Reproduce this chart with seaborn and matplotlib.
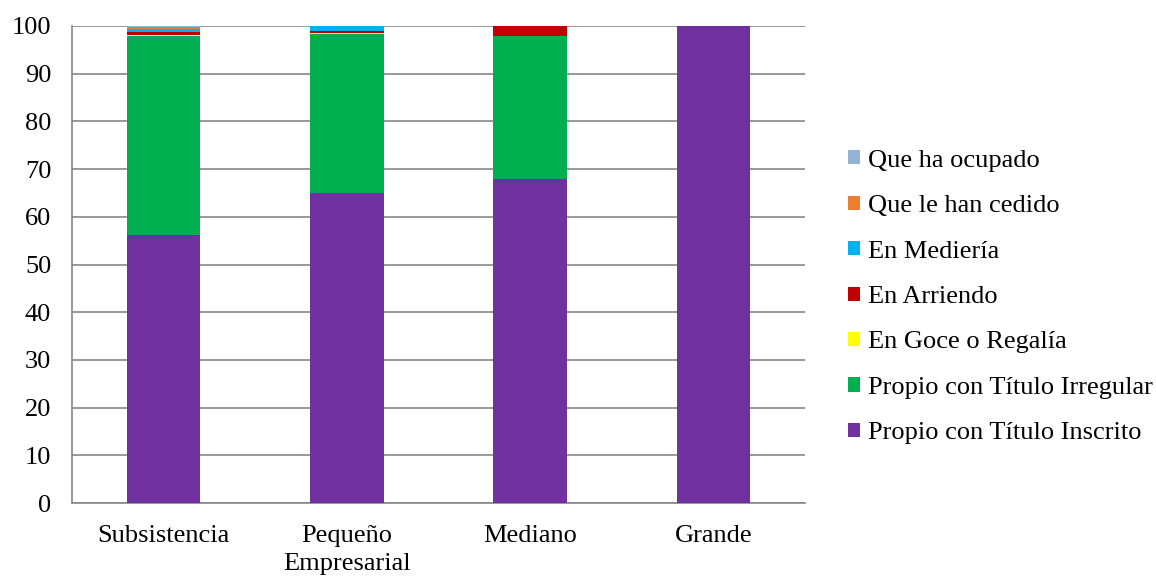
import numpy as np
import pandas as pd
import matplotlib
matplotlib.use("Agg")
import matplotlib.pyplot as plt
import seaborn as sns
from matplotlib.patches import Patch

categories = ["Subsistencia", "Pequeño\nEmpresarial", "Mediano", "Grande"]
series_names = ["Propio con Título Inscrito", "Propio con Título Irregular",
                "En Goce o Regalía", "En Arriendo", "En Mediería",
                "Que le han cedido", "Que ha ocupado"]
inscrito = [56.1, 64.9, 68.0, 100.0]
irregular = [41.7, 33.5, 30.0, 0.0]
goce = [0.3, 0.1, 0.0, 0.0]
arriendo = [0.7, 0.4, 2.0, 0.0]
medieria = [0.6, 1.0, 0.0, 0.0]
cedido = [0.4, 0.0, 0.0, 0.0]
ocupado = [0.2, 0.1, 0.0, 0.0]
colors = ["#7030A0", "#00B050", "#FFFF00", "#C00000", "#00B0F0", "#ED7D31", "#95B3D7"]

sns.set_style("white")
plt.rcParams["font.family"] = ["Liberation Serif", "DejaVu Serif"]
plt.rcParams["text.color"] = "black"
plt.rcParams["xtick.labelcolor"] = "black"
plt.rcParams["ytick.labelcolor"] = "black"
FS = 19

values = np.array([inscrito, irregular, goce, arriendo, medieria, cedido, ocupado])
cum = np.cumsum(values, axis=0)

fig = plt.figure(figsize=(11.56, 5.80), dpi=100)
ax = fig.add_axes([72/1156, 1-503/580, (805-72)/1156, (503-26)/580])

for i in range(len(series_names) - 1, -1, -1):
    df = pd.DataFrame({"cat": categories, "val": cum[i]})
    sns.barplot(data=df, x="cat", y="val", color=colors[i], width=0.40,
                saturation=1, ax=ax, zorder=3, linewidth=0, order=categories)

ax.set_ylim(0, 100)
ax.set_xlim(-0.5, 3.5)
ax.set_yticks(range(0, 101, 10))
ax.set_xlabel("")
ax.set_ylabel("")
ax.yaxis.grid(True, color="#868686", linewidth=1.2, zorder=0)
ax.set_axisbelow(True)
for s in ["top", "right"]:
    ax.spines[s].set_visible(False)
for s in ["left", "bottom"]:
    ax.spines[s].set_color("#868686")
    ax.spines[s].set_linewidth(1.2)
ax.set_xticks(range(4))
ax.set_xticklabels(categories, fontsize=FS, linespacing=1.4, color="black")
ax.set_xticks([-0.5, 0.5, 1.5, 2.5, 3.5], minor=True)
ax.tick_params(axis="x", which="major", length=0, pad=15.5, labelcolor="black")
ax.tick_params(axis="x", which="minor", length=7, color="#868686", width=1.2, direction="out")
ax.tick_params(axis="y", length=7, color="#868686", width=1.2, direction="out", labelsize=FS, pad=8,
               labelcolor="black")

handles = [Patch(facecolor=colors[i], edgecolor="none") for i in range(len(series_names))][::-1]
labels = series_names[::-1]
fig.legend(handles, labels, loc="center left", bbox_to_anchor=(848/1156, 1-297/580),
           frameon=False, fontsize=FS, handlelength=0.45, handleheight=0.45,
           handletextpad=0.3, labelspacing=0.89, borderpad=0, borderaxespad=0,
           labelcolor="black")

fig.savefig("out.png", dpi=100)
